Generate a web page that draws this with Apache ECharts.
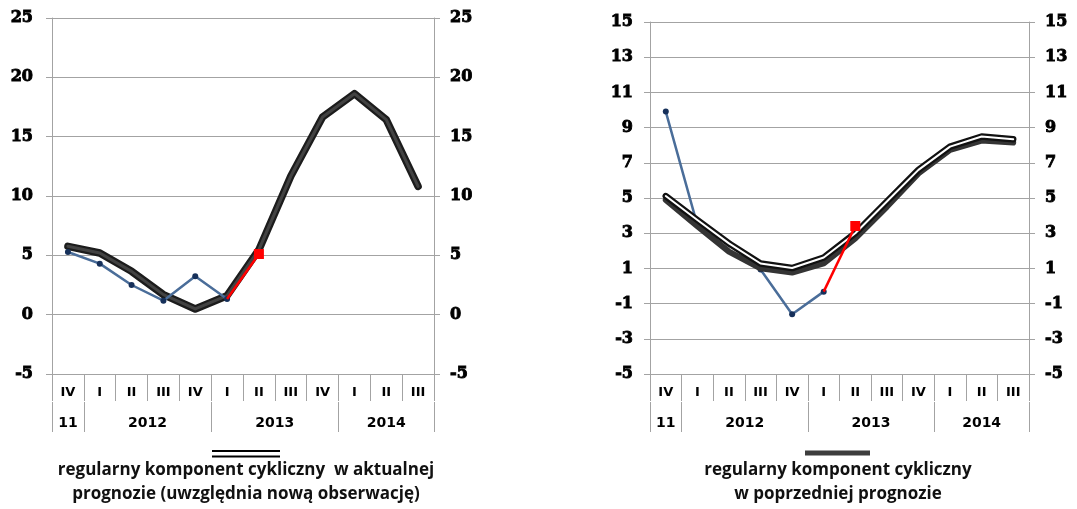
<!DOCTYPE html>
<html>
<head>
<meta charset="utf-8">
<script src="https://cdn.jsdelivr.net/npm/echarts@6/dist/echarts.min.js"></script>
<style>
html,body{margin:0;padding:0;background:#fff;}
#c{width:1077px;height:509px;}
</style>
</head>
<body>
<div id="c"></div>
<script>
// ---- data ----
const quarters = ['IV','I','II','III','IV','I','II','III','IV','I','II','III'];
const yearLabels = ['11','2012','2013','2014'];
const yearSpans = [1,4,4,3];

const leftCurrent  = [5.76, 5.2, 3.65, 1.69, 0.48, 1.6, 5.48, 11.66, 16.66, 18.62, 16.43, 10.81];
const leftObserved = [5.28, 4.3, 2.5, 1.18, 3.23, 1.32, null, null, null, null, null, null];
const leftNew      = [null, null, null, null, null, 1.32, 5.11, null, null, null, null, null];

const rightCurrent  = [5.11, 3.75, 2.42, 1.28, 1.02, 1.62, 3.0, 4.8, 6.6, 7.92, 8.49, 8.34];
const rightPrevious = [4.89, 3.4, 1.95, 1.0, 0.76, 1.28, 2.7, 4.5, 6.4, 7.73, 8.26, 8.15];
const rightObserved = [9.91, 3.46, 2.42, 0.94, -1.6, -0.32, null, null, null, null, null, null];
const rightNew      = [null, null, null, null, null, -0.32, 3.41, null, null, null, null, null];

const leftAxis  = {min: -5, max: 25, interval: 5};
const rightAxis = {min: -5, max: 15, interval: 2};

const legendCurrent  = ['regularny komponent cykliczny  w aktualnej', 'prognozie (uwzględnia nową obserwację)'];
const legendPrevious = ['regularny komponent cykliczny', 'w poprzedniej prognozie'];

// ---- helpers ----
const GRID_COLOR = '#a3a3a3';
const yearCats = [];
for (let i = 0; i <= quarters.length * 2; i++) yearCats.push('');
const yearLabelIdx = [];
const yearTickIdx = [0];
let pos = 0;
yearLabels.forEach((lab, k) => {
  const centerHalf = pos * 2 + yearSpans[k];
  yearCats[centerHalf] = lab;
  yearLabelIdx.push(centerHalf);
  pos += yearSpans[k];
  yearTickIdx.push(pos * 2);
});

function quarterAxis(gridIndex) {
  return {
    type: 'category', gridIndex: gridIndex, data: quarters, boundaryGap: true, position: 'bottom',
    axisLine: {show: true, onZero: false, lineStyle: {color: GRID_COLOR, width: 1}},
    axisTick: {show: true, interval: 0, length: 27, lineStyle: {color: GRID_COLOR}},
    axisLabel: {interval: 0, margin: 12, color: '#000', fontFamily: 'DejaVu Sans', fontWeight: 'bold', fontSize: 13}
  };
}
function yearAxis(gridIndex) {
  return {
    type: 'category', gridIndex: gridIndex, data: yearCats, boundaryGap: false, position: 'bottom', offset: 28,
    axisLine: {show: false, onZero: false},
    axisTick: {show: true, length: 30, lineStyle: {color: GRID_COLOR},
      interval: function (i) { return yearTickIdx.indexOf(i) >= 0; }},
    axisLabel: {margin: 14, color: '#000', fontFamily: 'DejaVu Sans', fontWeight: 'bold', fontSize: 14,
      interval: function (i) { return yearLabelIdx.indexOf(i) >= 0; }}
  };
}
function valAxis(gridIndex, sc, position, margin, split) {
  return {
    type: 'value', gridIndex: gridIndex, position: position, min: sc.min, max: sc.max, interval: sc.interval,
    axisLine: {show: true, lineStyle: {color: GRID_COLOR, width: 1}},
    axisTick: {show: true, length: 6, lineStyle: {color: GRID_COLOR}},
    splitLine: {show: split, lineStyle: {color: GRID_COLOR, width: 1}},
    axisLabel: {margin: margin, color: '#000', fontFamily: 'DejaVu Serif', fontWeight: 'bold', fontSize: 16,
      textBorderColor: '#000', textBorderWidth: 0.9,
      formatter: function (v) { return String(v); }}
  };
}
function newPoints(arr) {
  let last = -1;
  arr.forEach((v, i) => { if (v != null) last = i; });
  return arr.map((v, i) => v == null ? null : {value: v, symbol: i === last ? 'rect' : 'none', symbolSize: 10});
}
function blueSeries(x, y, data, z) {
  return {type: 'line', xAxisIndex: x, yAxisIndex: y, data: data, z: z,
    lineStyle: {color: '#4a6d99', width: 2.5}, itemStyle: {color: '#16305a'},
    symbol: 'circle', symbolSize: 6, showSymbol: true};
}
function redSeries(x, y, data, z) {
  return {type: 'line', xAxisIndex: x, yAxisIndex: y, data: newPoints(data), z: z,
    lineStyle: {color: '#ff0000', width: 2.5}, itemStyle: {color: '#ff0000'}};
}
function plainLine(x, y, data, color, width, z) {
  return {type: 'line', xAxisIndex: x, yAxisIndex: y, data: data, z: z, symbol: 'none',
    lineStyle: {color: color, width: width, join: 'round', cap: 'round'}};
}
function legendGraphic(cx, lines, kind) {
  const children = [];
  if (kind === 'double') {
    children.push({type: 'line', shape: {x1: cx - 34, y1: 451, x2: cx + 34, y2: 451}, style: {stroke: '#000', lineWidth: 2}});
    children.push({type: 'line', shape: {x1: cx - 34, y1: 456.5, x2: cx + 34, y2: 456.5}, style: {stroke: '#000', lineWidth: 2}});
  } else {
    children.push({type: 'line', shape: {x1: cx - 33, y1: 453, x2: cx + 32, y2: 453}, style: {stroke: '#3d3d3d', lineWidth: 5}});
  }
  lines.forEach((t, k) => {
    children.push({type: 'text', style: {text: t, x: cx, y: 470 + k * 24, textAlign: 'center', textVerticalAlign: 'middle',
      font: 'bold 17px "Open Sans"', fill: '#111'}});
  });
  return {type: 'group', children: children};
}

const chart = echarts.init(document.getElementById('c'), null, {renderer: 'canvas'});
chart.setOption({
  animation: false,
  backgroundColor: '#fff',
  grid: [
    {left: 52, right: 1077 - 434, top: 18, bottom: 509 - 374},
    {left: 650, right: 1077 - 1029, top: 22, bottom: 509 - 374}
  ],
  xAxis: [quarterAxis(0), yearAxis(0), quarterAxis(1), yearAxis(1)],
  yAxis: [
    valAxis(0, leftAxis, 'left', 19, true),
    valAxis(0, leftAxis, 'right', 16, false),
    valAxis(1, rightAxis, 'left', 17, true),
    valAxis(1, rightAxis, 'right', 16, false)
  ],
  series: [
    plainLine(0, 0, leftCurrent, '#1c1c1c', 7.5, 3),
    plainLine(0, 0, leftCurrent, '#424242', 3, 4),
    blueSeries(0, 0, leftObserved, 5),
    redSeries(0, 0, leftNew, 6),

    blueSeries(2, 2, rightObserved, 2),
    plainLine(2, 2, rightPrevious, '#343434', 6, 3),
    plainLine(2, 2, rightCurrent, '#111', 6.5, 4),
    plainLine(2, 2, rightCurrent, '#fff', 2, 5),
    redSeries(2, 2, rightNew, 6)
  ],
  graphic: [
    legendGraphic(246, legendCurrent, 'double'),
    legendGraphic(838, legendPrevious, 'solid')
  ]
});
</script>
</body>
</html>
